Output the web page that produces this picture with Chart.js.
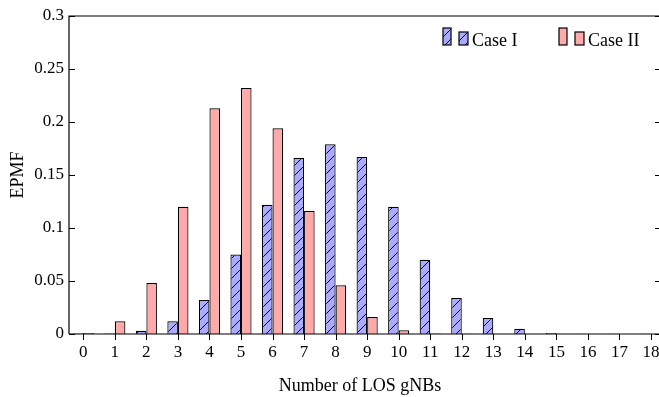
<!DOCTYPE html>
<html>
<head>
<meta charset="utf-8">
<script src="https://cdn.jsdelivr.net/npm/chart.js@4.4.1/dist/chart.umd.min.js"></script>
<style>
  html, body { margin: 0; padding: 0; background: #fff; }
  #wrap { width: 659px; height: 397px; }
</style>
</head>
<body>
<div id="wrap"><canvas id="epmfChart"></canvas></div>
<script>
// values
var gnbCounts = [0, 1, 2, 3, 4, 5, 6, 7, 8, 9, 10, 11, 12, 13, 14, 15, 16, 17, 18];
var caseOne = [0.0005, 0.0005, 0.003, 0.012, 0.032, 0.075, 0.122, 0.166, 0.179, 0.167, 0.120, 0.070, 0.034, 0.015, 0.005, 0.001, 0.0003, 0.0002, 0.0002];
var caseTwo = [0.001, 0.012, 0.048, 0.120, 0.213, 0.232, 0.194, 0.116, 0.046, 0.016, 0.0035, 0.0005, 0.0002, 0.0001, 0.0001, 0.0001, 0.0001, 0.0001, 0.0001];
var yTicks = [0, 0.05, 0.1, 0.15, 0.2, 0.25, 0.3];
var seriesNames = ["Case I", "Case II"];

var FONT = "'Liberation Serif', 'Times New Roman', serif";
var blueFill = "#aaaaff";
var pinkFill = "#ffaaaa";

// hatch pattern "/" for case I
function makeHatch(bg) {
  var c = document.createElement("canvas");
  c.width = 10; c.height = 10;
  var g = c.getContext("2d");
  g.fillStyle = bg;
  g.fillRect(0, 0, 10, 10);
  g.strokeStyle = "#000";
  g.lineWidth = 1;
  g.beginPath();
  g.moveTo(-1, 11); g.lineTo(11, -1);
  g.moveTo(-6, 6); g.lineTo(6, -6);
  g.moveTo(4, 16); g.lineTo(16, 4);
  g.stroke();
  return g.createPattern(c, "repeat");
}
var hatchBlue = makeHatch(blueFill);

function toPoints(vals) {
  var out = [];
  for (var i = 0; i < gnbCounts.length; i++) out.push({x: gnbCounts[i], y: vals[i]});
  return out;
}

// frame, inward y ticks, outward x ticks, legend
var framePlugin = {
  id: "frame",
  afterDraw: function(chart) {
    var ctx = chart.ctx, a = chart.chartArea;
    var xs = chart.scales.x, ys = chart.scales.y;
    var W = chart.width;
    ctx.save();
    ctx.strokeStyle = "#000";
    ctx.lineWidth = 1.2;
    ctx.beginPath();
    ctx.moveTo(a.left, a.bottom); ctx.lineTo(a.left, a.top); ctx.lineTo(W, a.top);
    ctx.moveTo(a.left, a.bottom); ctx.lineTo(W, a.bottom);
    ctx.stroke();
    ctx.lineWidth = 1;
    ctx.beginPath();
    yTicks.forEach(function(v) {
      var py = Math.round(ys.getPixelForValue(v)) + 0.5;
      ctx.moveTo(a.left, py); ctx.lineTo(a.left + 6, py);
      ctx.moveTo(W, py); ctx.lineTo(W - 4, py);
    });
    gnbCounts.forEach(function(v) {
      var px = Math.round(xs.getPixelForValue(v)) + 0.5;
      ctx.moveTo(px, a.bottom); ctx.lineTo(px, a.bottom + 6);
    });
    ctx.stroke();

    // legend with two patches per entry, like the original
    var fills = [hatchBlue, pinkFill];
    var starts = [443, 559];
    ctx.font = "18px " + FONT;
    ctx.textBaseline = "alphabetic";
    for (var k = 0; k < 2; k++) {
      var x0 = starts[k];
      ctx.fillStyle = fills[k];
      ctx.fillRect(x0, 28, 8, 17);
      ctx.fillRect(x0 + 16, 32, 9, 13);
      ctx.strokeStyle = "#000";
      ctx.lineWidth = 1.2;
      ctx.strokeRect(x0, 28, 8, 17);
      ctx.strokeRect(x0 + 16, 32, 9, 13);
      ctx.fillStyle = "#000";
      ctx.fillText(seriesNames[k], x0 + 29, 46);
    }
    ctx.restore();
  }
};

var chart = new Chart(document.getElementById("epmfChart"), {
  type: "bar",
  data: {
    datasets: [
      {
        label: seriesNames[0],
        data: toPoints(caseOne),
        backgroundColor: hatchBlue,
        borderColor: "#000",
        borderWidth: 1.2,
        categoryPercentage: 0.67,
        barPercentage: 1.0,
        clip: false
      },
      {
        label: seriesNames[1],
        data: toPoints(caseTwo),
        backgroundColor: pinkFill,
        borderColor: "#000",
        borderWidth: 1.2,
        categoryPercentage: 0.67,
        barPercentage: 1.0,
        clip: false
      }
    ]
  },
  options: {
    responsive: true,
    maintainAspectRatio: false,
    animation: false,
    layout: { padding: { top: 16, right: 8, left: 0, bottom: 0 } },
    plugins: { legend: { display: false }, tooltip: { enabled: false } },
    scales: {
      x: {
        type: "linear",
        offset: false,
        min: -0.453,
        max: 18,
        grid: { display: false, drawTicks: false },
        border: { display: false },
        afterBuildTicks: function(scale) {
          scale.ticks = gnbCounts.map(function(v) { return {value: v}; });
        },
        afterFit: function(scale) {
          scale.height = 63;
          scale.paddingLeft = 0;
          scale.paddingRight = 0;
        },
        ticks: {
          color: "#000",
          padding: 8,
          maxRotation: 0,
          autoSkip: false,
          font: { family: FONT, size: 17 },
          callback: function(v) { return String(v); }
        },
        title: {
          display: true,
          text: "Number of LOS gNBs",
          color: "#000",
          padding: { top: 9, bottom: 0 },
          font: { family: FONT, size: 18 }
        }
      },
      y: {
        min: 0,
        max: 0.3,
        grid: { display: false, drawTicks: false },
        border: { display: false },
        afterBuildTicks: function(scale) {
          scale.ticks = yTicks.map(function(v) { return {value: v}; });
        },
        afterFit: function(scale) { scale.width = 69; },
        ticks: {
          color: "#000",
          padding: 5,
          font: { family: FONT, size: 17 },
          callback: function(v) { return String(+v.toFixed(2)); }
        },
        title: {
          display: true,
          text: "EPMF",
          color: "#000",
          padding: { top: 7, bottom: 0 },
          font: { family: FONT, size: 18 }
        }
      }
    }
  },
  plugins: [framePlugin]
});
</script>
</body>
</html>
